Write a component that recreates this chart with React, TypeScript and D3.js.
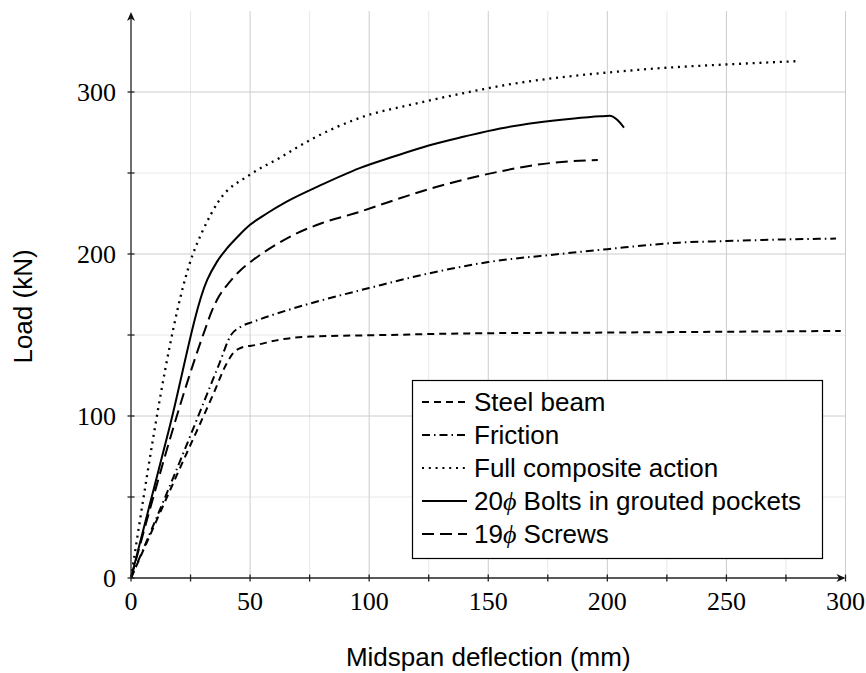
import { useEffect, useRef } from "react";
import * as d3 from "d3";

// deflection (mm), load (kN)
const steelBeam: [number, number][] = [
  [0, 0], [20, 66], [35, 115], [40, 132], [43, 139], [46, 142], [53, 144], [62, 147],
  [75, 149], [107, 150], [142, 151], [200, 151.5], [250, 152], [298, 152.5],
];
const friction: [number, number][] = [
  [0, 0], [20, 70], [37, 132], [42, 150], [46, 155], [51, 158], [65, 165], [79, 171],
  [100, 179], [125, 188], [150, 195], [180, 200], [200, 203], [230, 207], [250, 208],
  [275, 209], [296, 209.5],
];
const fullComposite: [number, number][] = [
  [0, 0], [26, 200], [30, 214], [37, 233], [50, 249], [62, 259], [76, 271], [96, 284],
  [120, 293], [142, 300], [160, 305], [180, 309], [200, 312], [225, 315], [250, 317],
  [279, 319],
];
const bolts: [number, number][] = [
  [0, 0], [16, 92], [32, 184], [36, 195], [40, 203], [45, 211], [50, 218], [57, 225],
  [65, 232], [79, 242], [96, 253], [110, 260], [125, 267], [140, 272.5], [155, 277.5],
  [170, 281], [185, 283.5], [197, 285], [201, 285.3], [204, 283], [207, 278],
];
const screws: [number, number][] = [
  [0, 0], [31, 153], [34, 165], [37, 174], [41, 182], [46, 190], [51, 196], [60, 205],
  [70, 213], [80, 219], [96, 226], [110, 233], [125, 240], [140, 246], [155, 251],
  [170, 255], [185, 257.3], [196, 258],
];

const xTicks = [0, 50, 100, 150, 200, 250, 300];
const yTicks = [0, 100, 200, 300];

const series = [
  { name: "Steel beam", data: steelBeam, dash: "7 5" },
  { name: "Friction", data: friction, dash: "8 4 1.5 4" },
  { name: "Full composite action", data: fullComposite, dash: "2 4.8" },
  { name: "20|Bolts in grouted pockets", data: bolts, dash: null },
  { name: "19|Screws", data: screws, dash: "12 6" },
];

export default function App() {
  const ref = useRef<SVGSVGElement>(null);

  useEffect(() => {
    if (!ref.current) return;
    document.body.style.margin = "0";
    const svg = d3.select(ref.current);
    svg.selectAll("*").remove();

    const x = d3.scaleLinear().domain([0, 300]).range([131, 845.5]);
    const y = d3.scaleLinear().domain([0, 350]).range([578, 11]);

    const sans = "'Liberation Sans', Arial, sans-serif";
    const serif = "'Liberation Serif', 'DejaVu Serif', serif";

    // grid: minor first, major on top
    const g = svg.append("g");
    const xMinor = d3.range(25, 301, 50);
    const xMajor = d3.range(50, 301, 50);
    const yMinor = d3.range(50, 350, 100);
    const yMajor = d3.range(100, 350, 100);
    g.selectAll(".xmin").data(xMinor).join("line")
      .attr("x1", (d) => x(d)).attr("x2", (d) => x(d))
      .attr("y1", y(0)).attr("y2", y(350))
      .attr("stroke", "#e8e8e8").attr("stroke-width", 1);
    g.selectAll(".ymin").data(yMinor).join("line")
      .attr("x1", x(0)).attr("x2", x(300))
      .attr("y1", (d) => y(d)).attr("y2", (d) => y(d))
      .attr("stroke", "#e8e8e8").attr("stroke-width", 1);
    g.selectAll(".xmaj").data(xMajor).join("line")
      .attr("x1", (d) => x(d)).attr("x2", (d) => x(d))
      .attr("y1", y(0)).attr("y2", y(350))
      .attr("stroke", "#cccccc").attr("stroke-width", 1);
    g.selectAll(".ymaj").data(yMajor).join("line")
      .attr("x1", x(0)).attr("x2", x(300))
      .attr("y1", (d) => y(d)).attr("y2", (d) => y(d))
      .attr("stroke", "#cccccc").attr("stroke-width", 1);

    // curves
    const line = d3.line<[number, number]>()
      .x((d) => x(d[0]))
      .y((d) => y(d[1]))
      .curve(d3.curveMonotoneX);

    svg.append("g").selectAll("path").data(series).join("path")
      .attr("d", (d) => line(d.data) || "")
      .attr("fill", "none")
      .attr("stroke", "#000")
      .attr("stroke-width", (d) => (d.dash === "2 4.8" ? 2.3 : 2))
      .attr("stroke-dasharray", (d) => d.dash);

    // axes with arrows
    const axes = svg.append("g").attr("stroke", "#222").attr("stroke-width", 1.3);
    axes.append("line").attr("x1", x(0)).attr("x2", x(300) - 2).attr("y1", y(0)).attr("y2", y(0));
    axes.append("line").attr("x1", x(0)).attr("x2", x(0)).attr("y1", y(0)).attr("y2", y(350) + 3);
    svg.append("path")
      .attr("d", `M${x(300)},${y(0)} l-9,-4 l2.5,4 l-2.5,4 z`)
      .attr("fill", "#111");
    svg.append("path")
      .attr("d", `M${x(0)},${y(350) + 1} l-4,9 l4,-2.5 l4,2.5 z`)
      .attr("fill", "#111");

    // ticks, crossing the axis
    const tickX = d3.range(0, 301, 25);
    const tickY = d3.range(0, 350, 50);
    axes.selectAll(".tx").data(tickX).join("line")
      .attr("x1", (d) => x(d)).attr("x2", (d) => x(d))
      .attr("y1", y(0) - 3.5).attr("y2", y(0) + 3.5);
    axes.selectAll(".ty").data(tickY).join("line")
      .attr("x1", x(0) - 3.5).attr("x2", x(0) + 3.5)
      .attr("y1", (d) => y(d)).attr("y2", (d) => y(d));

    // tick labels
    svg.append("g").selectAll("text").data(xTicks).join("text")
      .attr("x", (d) => x(d)).attr("y", 610)
      .attr("text-anchor", "middle")
      .style("font-family", serif).style("font-size", "26px")
      .text((d) => d);
    svg.append("g").selectAll("text").data(yTicks).join("text")
      .attr("x", 116).attr("y", (d) => y(d) + 9)
      .attr("text-anchor", "end")
      .style("font-family", serif).style("font-size", "26px")
      .text((d) => d);

    // axis labels
    svg.append("text")
      .attr("x", (x(0) + x(300)) / 2).attr("y", 666)
      .attr("text-anchor", "middle")
      .style("font-family", sans).style("font-size", "26px")
      .text("Midspan deflection (mm)");
    svg.append("text")
      .attr("transform", `translate(32,${y(175) + 12}) rotate(-90)`)
      .attr("text-anchor", "middle")
      .style("font-family", sans).style("font-size", "26px")
      .text("Load (kN)");

    // legend
    const lg = svg.append("g");
    lg.append("rect")
      .attr("x", 412.5).attr("y", 380.5).attr("width", 410).attr("height", 178)
      .attr("fill", "#fff").attr("stroke", "#000").attr("stroke-width", 1.2);
    series.forEach((s, i) => {
      const cy = 402 + i * 33;
      lg.append("line")
        .attr("x1", 422).attr("x2", 467).attr("y1", cy).attr("y2", cy)
        .attr("stroke", "#000").attr("stroke-width", 2)
        .attr("stroke-dasharray", s.dash);
      const t = lg.append("text")
        .attr("x", 474).attr("y", cy + 9)
        .style("font-family", sans).style("font-size", "26px");
      if (s.name.includes("|")) {
        const [num, rest] = s.name.split("|");
        t.append("tspan").text(num);
        t.append("tspan").style("font-family", serif).style("font-style", "italic").text("\u03D5");
        t.append("tspan").text(" " + rest);
      } else {
        t.text(s.name);
      }
    });
  }, []);

  return (
    <svg ref={ref} width={866} height={673} style={{ display: "block", background: "#fff" }} />
  );
}
